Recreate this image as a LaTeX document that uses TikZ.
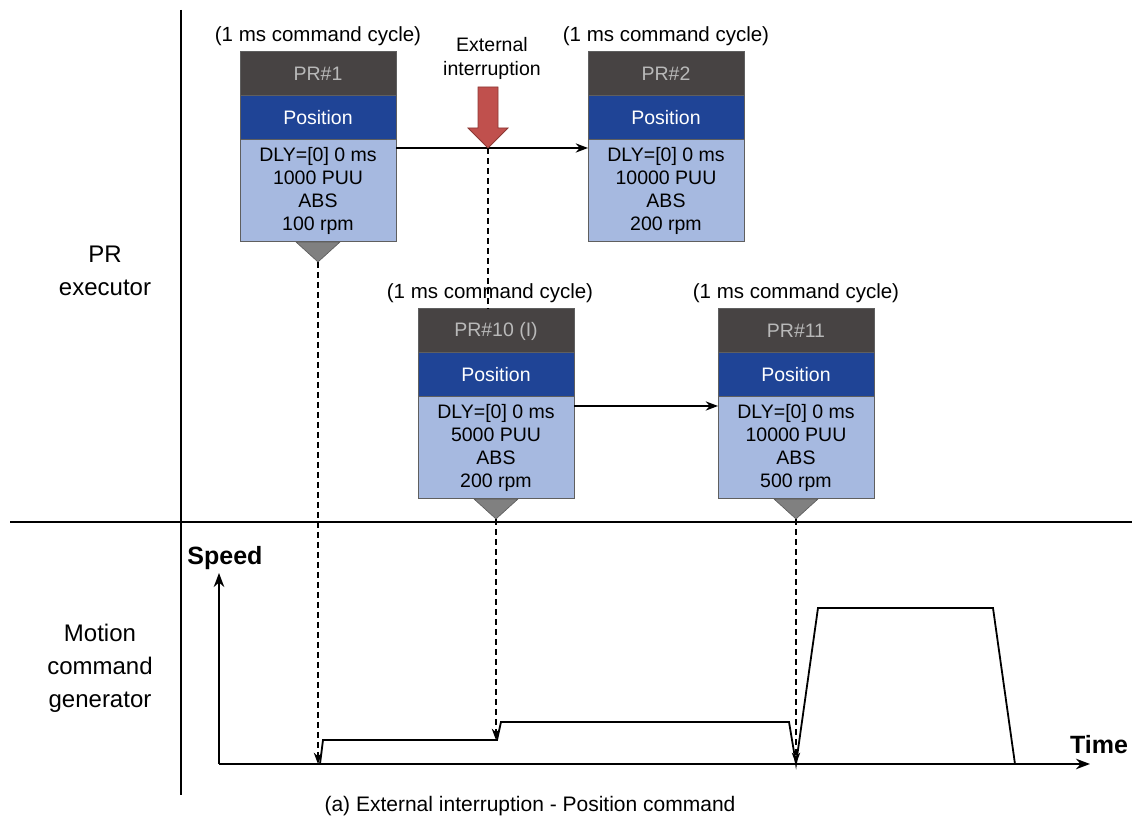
\documentclass[tikz,border=0pt]{standalone}
\usepackage{fontspec}
\setmainfont{Liberation Sans}
\usepackage{tikz}
\usetikzlibrary{
  arrows.meta,
  calc,
  positioning
}
\definecolor{hdrgray}{RGB}{71,67,67}
\definecolor{hdrtext}{RGB}{185,185,185}
\definecolor{bandblue}{RGB}{31,68,150}
\definecolor{bodyblue}{RGB}{166,185,224}
\definecolor{boxline}{RGB}{95,95,95}
\definecolor{trigray}{RGB}{128,128,128}
\definecolor{intred}{RGB}{192,80,77}
\definecolor{intedge}{RGB}{140,56,52}
\tikzset{>=Stealth}
\tikzset{
  blk/.style={draw=boxline, line width=0.5pt, minimum width=78pt, outer sep=0pt,
    font=\fontsize{9.75}{11.6}\selectfont},
  hdr/.style={blk, fill=hdrgray, text=hdrtext, minimum height=22pt, anchor=north west},
  band/.style={blk, fill=bandblue, text=white, minimum height=22pt},
  body/.style={blk, fill=bodyblue, text=black, minimum height=51pt, align=center, inner sep=1pt},
  cyc/.style={font=\fontsize{10.25}{12}\selectfont, inner sep=1pt},
  tri/.style={fill=trigray, draw=trigray!70!black, line width=0.3pt},
  sep/.style={line width=0.6pt},
  dashline/.style={line width=0.6pt, dash pattern=on 3pt off 2pt},
  link/.style={->, line width=0.7pt},
  prof/.style={line width=0.9pt, line join=miter},
  side/.style={align=center, font=\fontsize{12}{16.5}\selectfont},
  axlbl/.style={font=\fontsize{12.5}{14}\selectfont\bfseries}
}

\begin{document}
\begin{tikzpicture}[x=0.5pt, y=-0.5pt]
\useasboundingbox (0,0) rectangle (1132,822);
% frame
\draw[sep] (181,10) -- (181,795);
\draw[sep] (10,522) -- (1132,522);
\node[side] (lblpr) at (105,271) {PR\\executor};
\node[side] (lblmc) at (100,668) {Motion\\command\\generator};

% PR blocks
\node[hdr] (pr1h) at (240,52) {PR\#1};
\node[band, below=0pt of pr1h] (pr1p) {Position};
\node[body, below=0pt of pr1p] (pr1b) {DLY=[0] 0 ms\\1000 PUU\\ABS\\100 rpm};
\node[cyc, above=2pt of pr1h] (cyc1) {(1 ms command cycle)};

\node[hdr] (pr2h) at (588,52) {PR\#2};
\node[band, below=0pt of pr2h] (pr2p) {Position};
\node[body, below=0pt of pr2p] (pr2b) {DLY=[0] 0 ms\\10000 PUU\\ABS\\200 rpm};
\node[cyc, above=2pt of pr2h] (cyc2) {(1 ms command cycle)};

\node[hdr] (pr10h) at (418,309) {PR\#10 (I)};
\node[band, below=0pt of pr10h] (pr10p) {Position};
\node[body, below=0pt of pr10p] (pr10b) {DLY=[0] 0 ms\\5000 PUU\\ABS\\200 rpm};
\node[cyc, above=2pt of pr10h, xshift=-3pt] (cyc10) {(1 ms command cycle)};

\node[hdr] (pr11h) at (718,309) {PR\#11};
\node[band, below=0pt of pr11h] (pr11p) {Position};
\node[body, below=0pt of pr11p] (pr11b) {DLY=[0] 0 ms\\10000 PUU\\ABS\\500 rpm};
\node[cyc, above=2pt of pr11h] (cyc11) {(1 ms command cycle)};

\fill[tri] (pr1b.south) ++(-22,0) -- ++(44,0) -- ++(-22,20) coordinate (pr1t) -- cycle;
\fill[tri] (pr10b.south) ++(-22,0) -- ++(44,0) -- ++(-22,20) coordinate (pr10t) -- cycle;
\fill[tri] (pr11b.south) ++(-22,0) -- ++(44,0) -- ++(-22,20) coordinate (pr11t) -- cycle;

% links between blocks
\draw[link] ($(pr1b.north east)+(0,-4pt)$) -- ($(pr2b.north west)+(0,-4pt)$);
\draw[link] ($(pr10b.north east)+(0,-4.5pt)$) -- ($(pr11b.north west)+(0,-4.5pt)$);

% external interruption
\coordinate (int) at (488,148);
\node[align=center, font=\fontsize{9.75}{12}\selectfont] (extlbl) at (492,58) {External\\interruption};
\filldraw[fill=intred, draw=intedge, line width=0.4pt] (int) -- ++(-20,-20) -- ++(10,0) -- ++(0,-41)
  -- ++(20,0) -- ++(0,41) -- ++(10,0) -- cycle;
\draw[dashline] (int) -- (int |- pr10h.north);

% speed profile
\coordinate (o) at (219,764);
\draw[->, line width=0.9pt] (o) -- (219,573);
\draw[->, line width=0.9pt] (o) -- (1090,764);
\node[axlbl] (lblspd) at (225,558) {Speed};
\node[axlbl] (lbltime) at (1099,745) {Time};
\draw[prof] (o) -- (320,764) coordinate (r1) -- (323,740) -- (497,740) coordinate (r2) -- (501,722)
  -- (789,722) -- (796,764) coordinate (r3) -- (818,608) -- (993,608) -- (1015,764);

\draw[dashline, ->] (pr1t) -- (pr1t |- r1);
\draw[dashline, ->] (pr10t) -- (pr10t |- r2);
\draw[dashline, ->] (pr11t) -- (pr11t |- r3);

\node[font=\fontsize{10.5}{12}\selectfont] (title) at (530,806) {(a) External interruption - Position command};
\end{tikzpicture}
\end{document}
